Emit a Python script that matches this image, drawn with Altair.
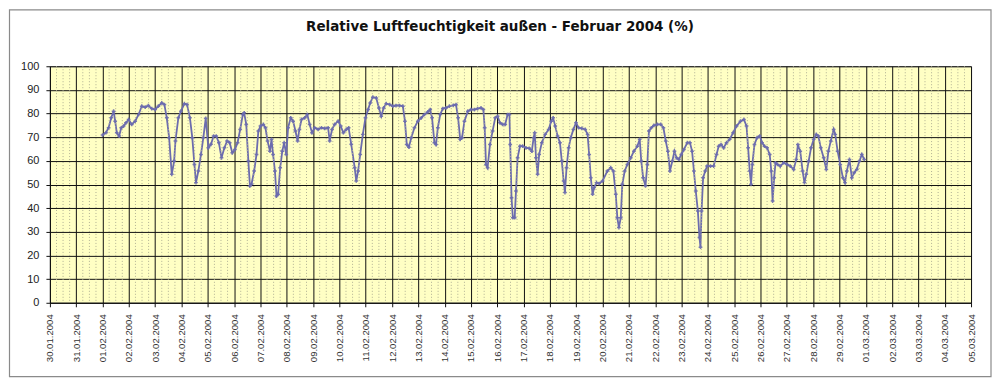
import altair as alt
import pandas as pd

TITLE = "Relative Luftfeuchtigkeit außen - Februar 2004 (%)"

# tick labels, one per day from 30.01.2004 (offset 0) to 05.03.2004 (offset 35)
DATE_LABELS = (["30.01.2004", "31.01.2004"]
               + [f"{d:02d}.02.2004" for d in range(1, 30)]
               + [f"{d:02d}.03.2004" for d in range(1, 6)])
Y_TICKS = [0, 10, 20, 30, 40, 50, 60, 70, 80, 90, 100]

# time in days since 01.02.2004 00:00, relative humidity in %
T = [0.00, 0.13, 0.23, 0.33, 0.42, 0.48, 0.54, 0.63, 0.71, 0.80, 0.89, 0.99,
     1.11, 1.24, 1.37, 1.49, 1.62, 1.74, 1.87, 2.00, 2.12, 2.25, 2.35, 2.44,
     2.53, 2.63, 2.72, 2.77, 2.88, 2.98, 3.11, 3.21, 3.32, 3.41, 3.49, 3.55,
     3.64, 3.74, 3.83, 3.92, 4.02, 4.12, 4.22, 4.32, 4.42, 4.52, 4.63, 4.73,
     4.83, 4.93, 5.03, 5.13, 5.23, 5.33, 5.38, 5.46, 5.54, 5.60, 5.66, 5.76,
     5.85, 5.92, 6.00, 6.11, 6.19, 6.27, 6.36, 6.42, 6.48, 6.55, 6.61, 6.67,
     6.75, 6.83, 6.90, 6.98, 7.05, 7.15, 7.24, 7.33, 7.41, 7.48, 7.56, 7.68,
     7.78, 7.87, 7.96, 8.06, 8.19, 8.32, 8.44, 8.57, 8.63, 8.72, 8.82, 8.95,
     9.05, 9.15, 9.26, 9.35, 9.45, 9.58, 9.64, 9.71, 9.79, 9.89, 9.99, 10.09,
     10.17, 10.27, 10.40, 10.50, 10.59, 10.68, 10.78, 10.91, 11.03, 11.15,
     11.28, 11.41, 11.49, 11.56, 11.64, 11.73, 11.85, 11.98, 12.11, 12.23,
     12.36, 12.45, 12.52, 12.61, 12.67, 12.74, 12.83, 12.93, 13.05, 13.18,
     13.33, 13.43, 13.51, 13.59, 13.66, 13.75, 13.88, 14.00, 14.13, 14.25,
     14.38, 14.47, 14.52, 14.57, 14.63, 14.72, 14.82, 14.92, 15.01, 15.10,
     15.20, 15.30, 15.39, 15.46, 15.49, 15.54, 15.59, 15.66, 15.71, 15.77,
     15.86, 15.96, 16.09, 16.21, 16.31, 16.38, 16.42, 16.47, 16.53, 16.59,
     16.69, 16.82, 16.95, 17.05, 17.12, 17.20, 17.29, 17.38, 17.45, 17.52,
     17.57, 17.63, 17.71, 17.79, 17.89, 17.99, 18.09, 18.21, 18.34, 18.43,
     18.49, 18.55, 18.62, 18.68, 18.77, 18.87, 19.00, 19.18, 19.31, 19.41,
     19.50, 19.56, 19.62, 19.69, 19.75, 19.84, 19.94, 20.07, 20.19, 20.32,
     20.41, 20.47, 20.54, 20.63, 20.70, 20.76, 20.85, 20.95, 21.08, 21.21,
     21.31, 21.40, 21.48, 21.56, 21.65, 21.73, 21.81, 21.90, 21.99, 22.09,
     22.22, 22.32, 22.40, 22.47, 22.54, 22.62, 22.68, 22.72, 22.76, 22.82,
     22.90, 22.97, 23.10, 23.22, 23.33, 23.41, 23.50, 23.60, 23.71, 23.83,
     23.96, 24.09, 24.24, 24.37, 24.47, 24.53, 24.59, 24.64, 24.69, 24.77,
     24.87, 24.97, 25.06, 25.15, 25.25, 25.35, 25.41, 25.46, 25.52, 25.57,
     25.65, 25.75, 25.88, 26.01, 26.13, 26.26, 26.36, 26.42, 26.51, 26.60,
     26.67, 26.74, 26.83, 26.92, 27.02, 27.12, 27.20, 27.29, 27.40, 27.50,
     27.58, 27.67, 27.78, 27.84, 27.93, 28.03, 28.13, 28.21, 28.28, 28.38,
     28.47, 28.56, 28.66, 28.76, 28.85, 28.94]

RH = [70.9, 71.9, 74.0, 78.2, 81.0, 76.8, 71.9, 70.5, 74.0, 74.7, 76.1, 77.5,
      75.4, 76.8, 79.6, 83.1, 82.7, 83.4, 82.1, 81.7, 83.1, 84.5, 83.8, 78.2,
      69.8, 54.3, 59.9, 68.4, 78.2, 81.0, 84.2, 83.8, 78.2, 69.8, 58.5, 50.8,
      55.7, 62.7, 69.8, 78.0, 65.5, 67.0, 70.5, 70.5, 67.7, 61.3, 65.5, 68.4,
      67.7, 63.4, 64.8, 67.7, 73.3, 79.6, 80.3, 75.4, 59.9, 49.4, 50.1, 55.7,
      62.7, 72.6, 74.7, 75.4, 74.0, 68.4, 64.1, 69.1, 62.7, 55.7, 45.1, 45.9,
      57.1, 64.1, 67.7, 62.7, 74.0, 78.2, 76.8, 72.6, 68.4, 73.3, 77.5, 78.2,
      79.6, 75.4, 71.9, 74.0, 73.3, 74.0, 73.7, 74.0, 68.4, 73.3, 75.4, 76.8,
      74.7, 71.9, 73.3, 74.0, 67.0, 57.1, 51.5, 55.7, 62.7, 71.2, 78.2, 81.7,
      84.5, 86.9, 86.6, 82.4, 78.9, 82.4, 84.2, 83.8, 83.1, 83.4,
      83.4, 83.1, 76.8, 66.9, 65.8, 69.8, 74.0, 76.8, 78.2, 79.6,
      80.7, 81.7, 78.2, 67.7, 66.9, 74.0, 79.6, 82.1, 82.4, 83.1,
      83.5, 83.8, 78.2, 69.1, 69.8, 76.8, 81.0, 81.7, 81.7, 82.1,
      82.4, 81.7, 74.0, 58.5, 57.1, 66.9, 72.6, 78.2, 78.9, 76.1,
      75.4, 75.4, 79.6, 79.6, 66.9, 44.4, 36.0, 36.0, 47.3, 61.3,
      66.2, 66.2, 65.5, 65.3, 64.1, 69.8, 71.9, 61.3, 54.3, 62.7,
      67.7, 71.2, 73.3, 76.8, 78.2, 74.7, 70.5, 67.7, 59.9, 51.5,
      46.6, 57.1, 65.5, 69.8, 73.3, 76.1, 74.0, 73.7, 73.3, 71.2,
      62.7, 52.9, 45.9, 48.7, 50.8, 50.4, 51.5, 55.7, 57.1, 55.7,
      45.9, 36.0, 31.8, 36.0, 50.1, 55.7, 58.5, 61.3, 64.1, 66.2,
      69.1, 59.9, 52.9, 49.4, 58.5, 72.6, 74.0, 75.0, 75.4, 75.4,
      74.0, 68.4, 64.1, 55.7, 59.9, 64.1, 61.3, 60.6, 62.7, 64.8,
      67.7, 67.7, 64.1, 55.7, 47.3, 38.8, 27.6, 23.5, 38.8, 52.9,
      55.7, 57.8, 57.8, 57.8, 62.7, 66.2, 66.9, 65.5, 67.7, 69.1,
      71.9, 74.7, 76.8, 77.5, 74.7, 65.5, 55.7, 50.1, 58.5, 66.9,
      69.8, 70.5, 67.7, 66.2, 65.5, 62.7, 55.7, 43.0, 52.9, 59.2,
      58.5, 57.8, 59.2, 58.5, 57.8, 56.4, 60.6, 66.9, 64.1, 55.7,
      50.8, 54.3, 59.9, 65.5, 69.1, 71.2, 70.5, 65.5, 61.3, 56.4,
      64.1, 68.4, 73.3, 71.2, 64.1, 58.5, 52.9, 50.8, 55.7, 60.6,
      52.9, 55.0, 56.4, 59.9, 62.7, 60.6]

N_DAYS = len(DATE_LABELS) - 1  # 35 day intervals on the axis
OFFSET = 2                     # 01.02 is two days after 30.01

df = pd.DataFrame({"day": [t + OFFSET for t in T], "rh": RH})
minor = pd.DataFrame({"day": [i / 4 for i in range(0, N_DAYS * 4 + 1) if i % 4]})
one = pd.DataFrame({"a": [0]})

label_expr = "[" + ",".join(f"'{s}'" for s in DATE_LABELS) + "][datum.value]"

x_scale = alt.Scale(domain=[0, N_DAYS], nice=False, zero=False)
y_scale = alt.Scale(domain=[0, 100], nice=False)

FONT = "Liberation Sans"
LINE_COLOR = "#6c6cae"

x_axis = alt.Axis(values=list(range(N_DAYS + 1)), labelExpr=label_expr,
                  grid=True, gridColor="#111111", gridWidth=1,
                  tickSize=4, tickColor="#111111", domainColor="#111111",
                  labelAngle=270, labelAlign="right", labelBaseline="middle",
                  labelPadding=7, labelFont=FONT, labelFontSize=9.6,
                  labelColor="#333333", labelOverlap=False, labelFlush=False,
                  title=None)
y_axis = alt.Axis(values=Y_TICKS, grid=True, gridColor="#111111", gridWidth=1,
                  tickSize=4, tickColor="#111111", domainColor="#111111",
                  labelPadding=7, labelFont=FONT, labelFontSize=11,
                  labelColor="#222222", labelOverlap=False, labelFlush=False,
                  title=None)

X = alt.X("day:Q", scale=x_scale, axis=x_axis)
Y = alt.Y("rh:Q", scale=y_scale, axis=y_axis)

frame = alt.Chart(one).mark_rect(fill="transparent", stroke="#8a8a8a",
                                 strokeWidth=1.2).encode(
    x=alt.value(-40.5), x2=alt.value(943), y=alt.value(-56.5), y2=alt.value(311))

title = alt.Chart(one).mark_text(text=TITLE, font="DejaVu Sans", fontWeight="bold",
                                 fontSize=13.5, align="center",
                                 baseline="alphabetic", color="#111111").encode(
    x=alt.value(451), y=alt.value(-35))

minor_rules = alt.Chart(minor).mark_rule(color="#b0b094", strokeDash=[1, 2],
                                         strokeWidth=1).encode(x=X)

line = alt.Chart(df).mark_line(color=LINE_COLOR, strokeWidth=1.8).encode(x=X, y=Y)

pts = alt.Chart(df).mark_point(shape="cross", filled=True, size=14,
                               color=LINE_COLOR, opacity=0.9).encode(x=X, y=Y)

chart = alt.layer(line, minor_rules, pts, frame, title).properties(
    width=923, height=237, padding=0
).configure_view(fill="#ffffc4", stroke="#808080", strokeWidth=1)

chart.save("out.html", embed_options={"renderer": "svg", "actions": False})
